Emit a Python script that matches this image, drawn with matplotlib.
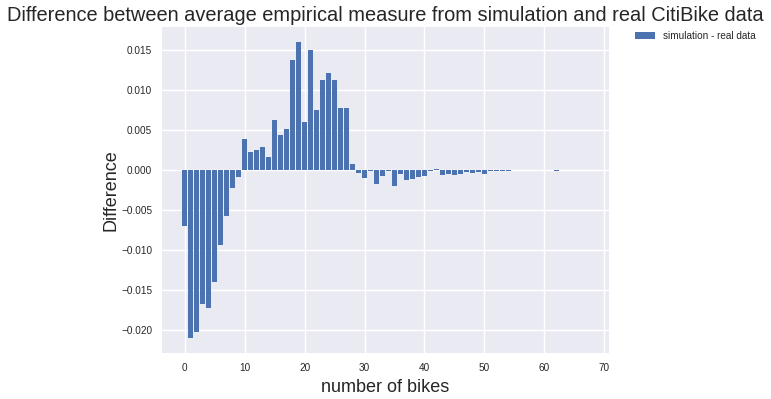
import matplotlib
matplotlib.use("Agg")
import matplotlib.pyplot as plt
import numpy as np

plt.style.use("seaborn-v0_8")
plt.rcParams["font.family"] = ["Liberation Sans", "DejaVu Sans"]

# difference per number of bikes (simulation - real data)
bikes = np.arange(68)
diff = [
    -0.00708, -0.02108, -0.02033, -0.01683, -0.01733, -0.01408, -0.00946, -0.00583, -0.00233, -0.00096,
    0.00388, 0.00225, 0.0025, 0.00288, 0.00163, 0.00625, 0.00438, 0.00513, 0.01375, 0.016,
    0.006, 0.015, 0.0074, 0.01125, 0.0121, 0.01125, 0.00775, 0.00775, 0.00075, -0.00046,
    -0.00108, -0.0002, -0.00183, -0.00083, -0.0002, -0.00208, -0.00058, -0.00133, -0.00121, -0.00096,
    -0.00083, -0.0002, 0.000125, -0.0007, -0.00058, -0.0007, -0.00058, -0.00033, -0.00046, -0.00033,
    -0.00058, -0.0002, -0.0002, -0.0002, -0.00015, 0.0, 0.0, 0.0, 0.0, 0.0,
    0.0, 0.0, -0.00015, 0.0, 0.0, 0.0, 0.0, 0.0,
]

fig = plt.figure(figsize=(7.71, 3.99), dpi=100)
ax = fig.add_axes([0.2101, 0.1145, 0.5798, 0.8185])
ax.bar(bikes, diff, color="#4C72B0", label="simulation - real data")

ax.set_title("Difference between average empirical measure from simulation and real CitiBike data",
             fontsize=14.4, pad=4)
ax.set_xlabel("number of bikes", fontsize=13)
ax.set_ylabel("Difference", fontsize=13, labelpad=1)
ax.tick_params(labelsize=7.2)
ax.legend(bbox_to_anchor=(1.05, 1), loc=2, borderaxespad=0., fontsize=7.2)

fig.savefig("out.png", dpi=100)
